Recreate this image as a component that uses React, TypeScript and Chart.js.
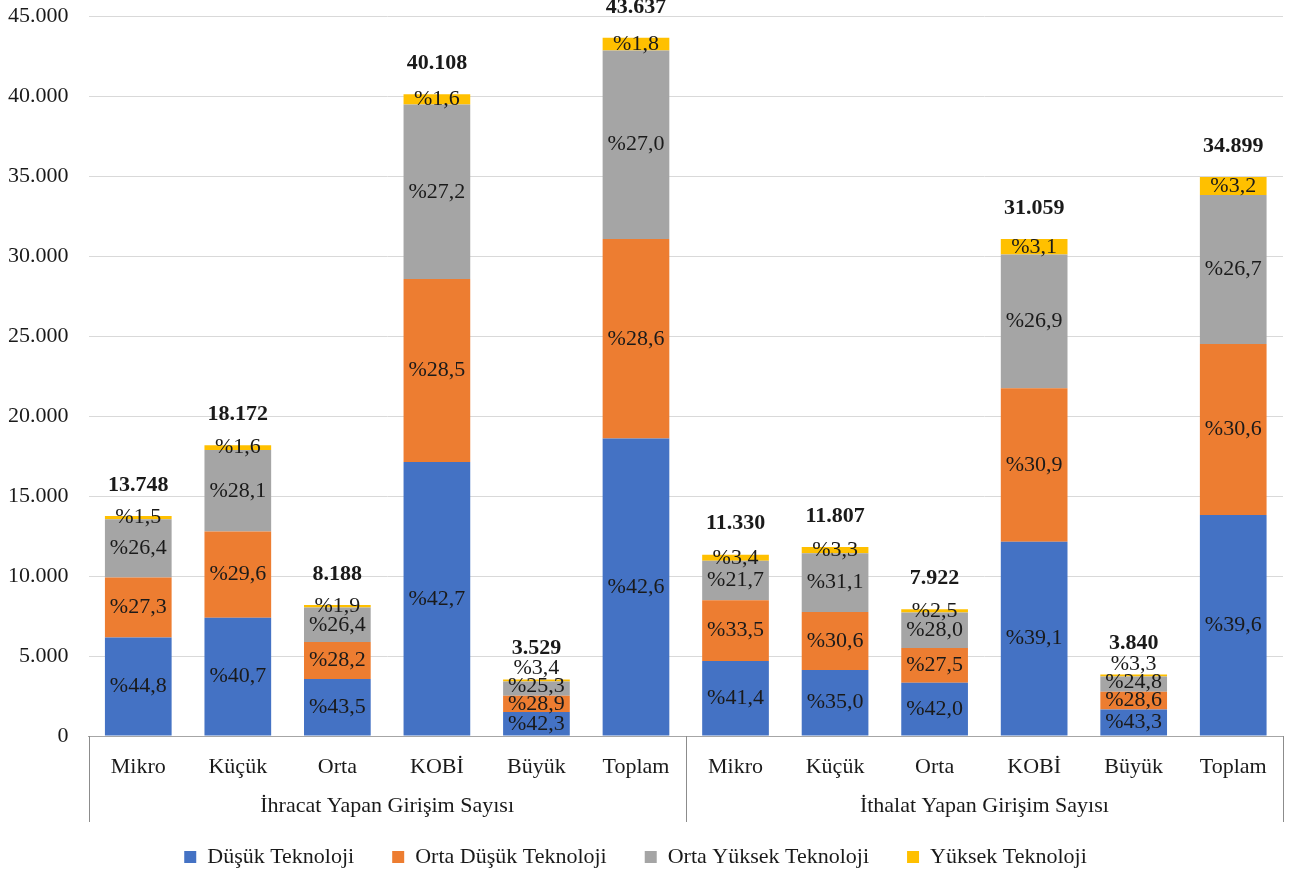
import { useEffect, useRef } from "react";
import Chart from "chart.js/auto";

const categories = ["Mikro", "Küçük", "Orta", "KOBİ", "Büyük", "Toplam", "Mikro", "Küçük", "Orta", "KOBİ", "Büyük", "Toplam"];
const groupLabels = ["İhracat Yapan Girişim Sayısı", "İthalat Yapan Girişim Sayısı"];
const groupSizes = [6, 6];

const seriesNames = ["Düşük Teknoloji", "Orta Düşük Teknoloji", "Orta Yüksek Teknoloji", "Yüksek Teknoloji"];
const seriesColors = ["#4472C4", "#ED7D31", "#A5A5A5", "#FFC000"];

const dusuk = [6159, 7396, 3562, 17126, 1493, 18589, 4691, 4132, 3327, 12144, 1663, 13820];
const ortaDusuk = [3753, 5379, 2309, 11431, 1020, 12480, 3796, 3613, 2179, 9597, 1098, 10679];
const ortaYuksek = [3629, 5106, 2162, 10909, 893, 11782, 2459, 3672, 2218, 8355, 952, 9318];
const yuksek = [206, 291, 156, 642, 120, 785, 385, 390, 198, 963, 127, 1117];

const totals = [13748, 18172, 8188, 40108, 3529, 43637, 11330, 11807, 7922, 31059, 3840, 34899];

const dusukPct = ["44,8", "40,7", "43,5", "42,7", "42,3", "42,6", "41,4", "35,0", "42,0", "39,1", "43,3", "39,6"];
const ortaDusukPct = ["27,3", "29,6", "28,2", "28,5", "28,9", "28,6", "33,5", "30,6", "27,5", "30,9", "28,6", "30,6"];
const ortaYuksekPct = ["26,4", "28,1", "26,4", "27,2", "25,3", "27,0", "21,7", "31,1", "28,0", "26,9", "24,8", "26,7"];
const yuksekPct = ["1,5", "1,6", "1,9", "1,6", "3,4", "1,8", "3,4", "3,3", "2,5", "3,1", "3,3", "3,2"];

const yMax = 45000;
const yStep = 5000;

const FONT = "'Liberation Serif', 'DejaVu Serif', serif";
const FS = 22;
const TEXT = "#1a1a1a";

const fmt = (n: number) => String(Math.round(n)).replace(/\B(?=(\d{3})+(?!\d))/g, ".");

const values = [dusuk, ortaDusuk, ortaYuksek, yuksek];
const pcts = [dusukPct, ortaDusukPct, ortaYuksekPct, yuksekPct];

const labelPlugin = {
  id: "segLabels",
  afterDatasetsDraw(chart: any) {
    const ctx = chart.ctx;
    ctx.save();
    ctx.textAlign = "center";
    ctx.textBaseline = "middle";
    ctx.fillStyle = TEXT;
    const GAP = 18;
    for (let i = 0; i < categories.length; i++) {
      let prevY = Infinity;
      let topY = Infinity;
      let x = 0;
      chart.data.datasets.forEach((_ds: any, d: number) => {
        const el = chart.getDatasetMeta(d).data[i];
        const p = el.getProps(["x", "y", "base"], true);
        x = p.x;
        let cy = (p.y + p.base) / 2;
        if (prevY - cy < GAP) cy = prevY - GAP;
        prevY = cy;
        topY = Math.min(topY, p.y);
        ctx.font = `${FS}px ${FONT}`;
        ctx.fillText("%" + pcts[d][i], x, cy);
      });
      ctx.font = `bold ${FS}px ${FONT}`;
      ctx.fillText(fmt(totals[i]), x, topY - 31);
    }
    ctx.restore();
  },
};

const groupAxisPlugin = {
  id: "groupAxis",
  afterDraw(chart: any) {
    const ctx = chart.ctx;
    const area = chart.chartArea;
    const n = categories.length;
    const step = (area.right - area.left) / n;
    ctx.save();
    ctx.strokeStyle = "#8C8C8C";
    ctx.lineWidth = 1;
    const bottom = area.bottom + 86;
    const bounds: number[] = [area.left];
    let acc = 0;
    groupSizes.forEach((s) => {
      acc += s;
      bounds.push(area.left + acc * step);
    });
    bounds.forEach((bx) => {
      const px = Math.round(bx) + 0.5;
      ctx.beginPath();
      ctx.moveTo(px, area.bottom);
      ctx.lineTo(px, bottom);
      ctx.stroke();
    });
    ctx.fillStyle = TEXT;
    ctx.font = `${FS}px ${FONT}`;
    ctx.textAlign = "center";
    ctx.textBaseline = "middle";
    groupLabels.forEach((g, gi) => {
      const cx = (bounds[gi] + bounds[gi + 1]) / 2;
      ctx.fillText(g, cx, area.bottom + 70);
    });
    ctx.restore();
  },
};

export default function App() {
  const ref = useRef<HTMLCanvasElement | null>(null);
  useEffect(() => {
    if (!ref.current) return;
    const chart = new Chart(ref.current, {
      type: "bar",
      data: {
        labels: categories,
        datasets: seriesNames.map((name, k) => ({
          label: name,
          data: values[k],
          backgroundColor: seriesColors[k],
          borderWidth: 0,
          barPercentage: 0.67,
          categoryPercentage: 1,
        })),
      },
      options: {
        responsive: false,
        animation: false,
        layout: { padding: { left: -12, right: 17, top: 16, bottom: -8 } },
        plugins: {
          legend: {
            position: "bottom",
            labels: {
              font: { family: FONT, size: FS },
              color: TEXT,
              boxWidth: 12,
              boxHeight: 12,
              padding: 38,
            },
          },
          tooltip: { enabled: false },
        },
        scales: {
          x: {
            stacked: true,
            grid: { display: false },
            border: { color: "#A6A6A6", width: 1 },
            ticks: { font: { family: FONT, size: FS }, color: TEXT, padding: 10, maxRotation: 0, autoSkip: false },
            afterFit: (s: any) => {
              s.height = 72;
            },
          },
          y: {
            stacked: true,
            min: 0,
            max: yMax,
            ticks: {
              stepSize: yStep,
              font: { family: FONT, size: FS },
              color: TEXT,
              padding: 20,
              callback: (v: any) => fmt(Number(v)),
            },
            grid: { color: "#D9D9D9", drawTicks: false },
            border: { display: false },
            afterFit: (s: any) => {
              s.paddingTop = 0;
              s.paddingBottom = 0;
            },
          },
        },
      },
      plugins: [labelPlugin, groupAxisPlugin],
    });
    return () => chart.destroy();
  }, []);
  return (
    <div style={{ position: "absolute", left: 0, top: 0, width: 1300, height: 870 }}>
      <canvas ref={ref} width={1300} height={870} style={{ display: "block" }} />
    </div>
  );
}
